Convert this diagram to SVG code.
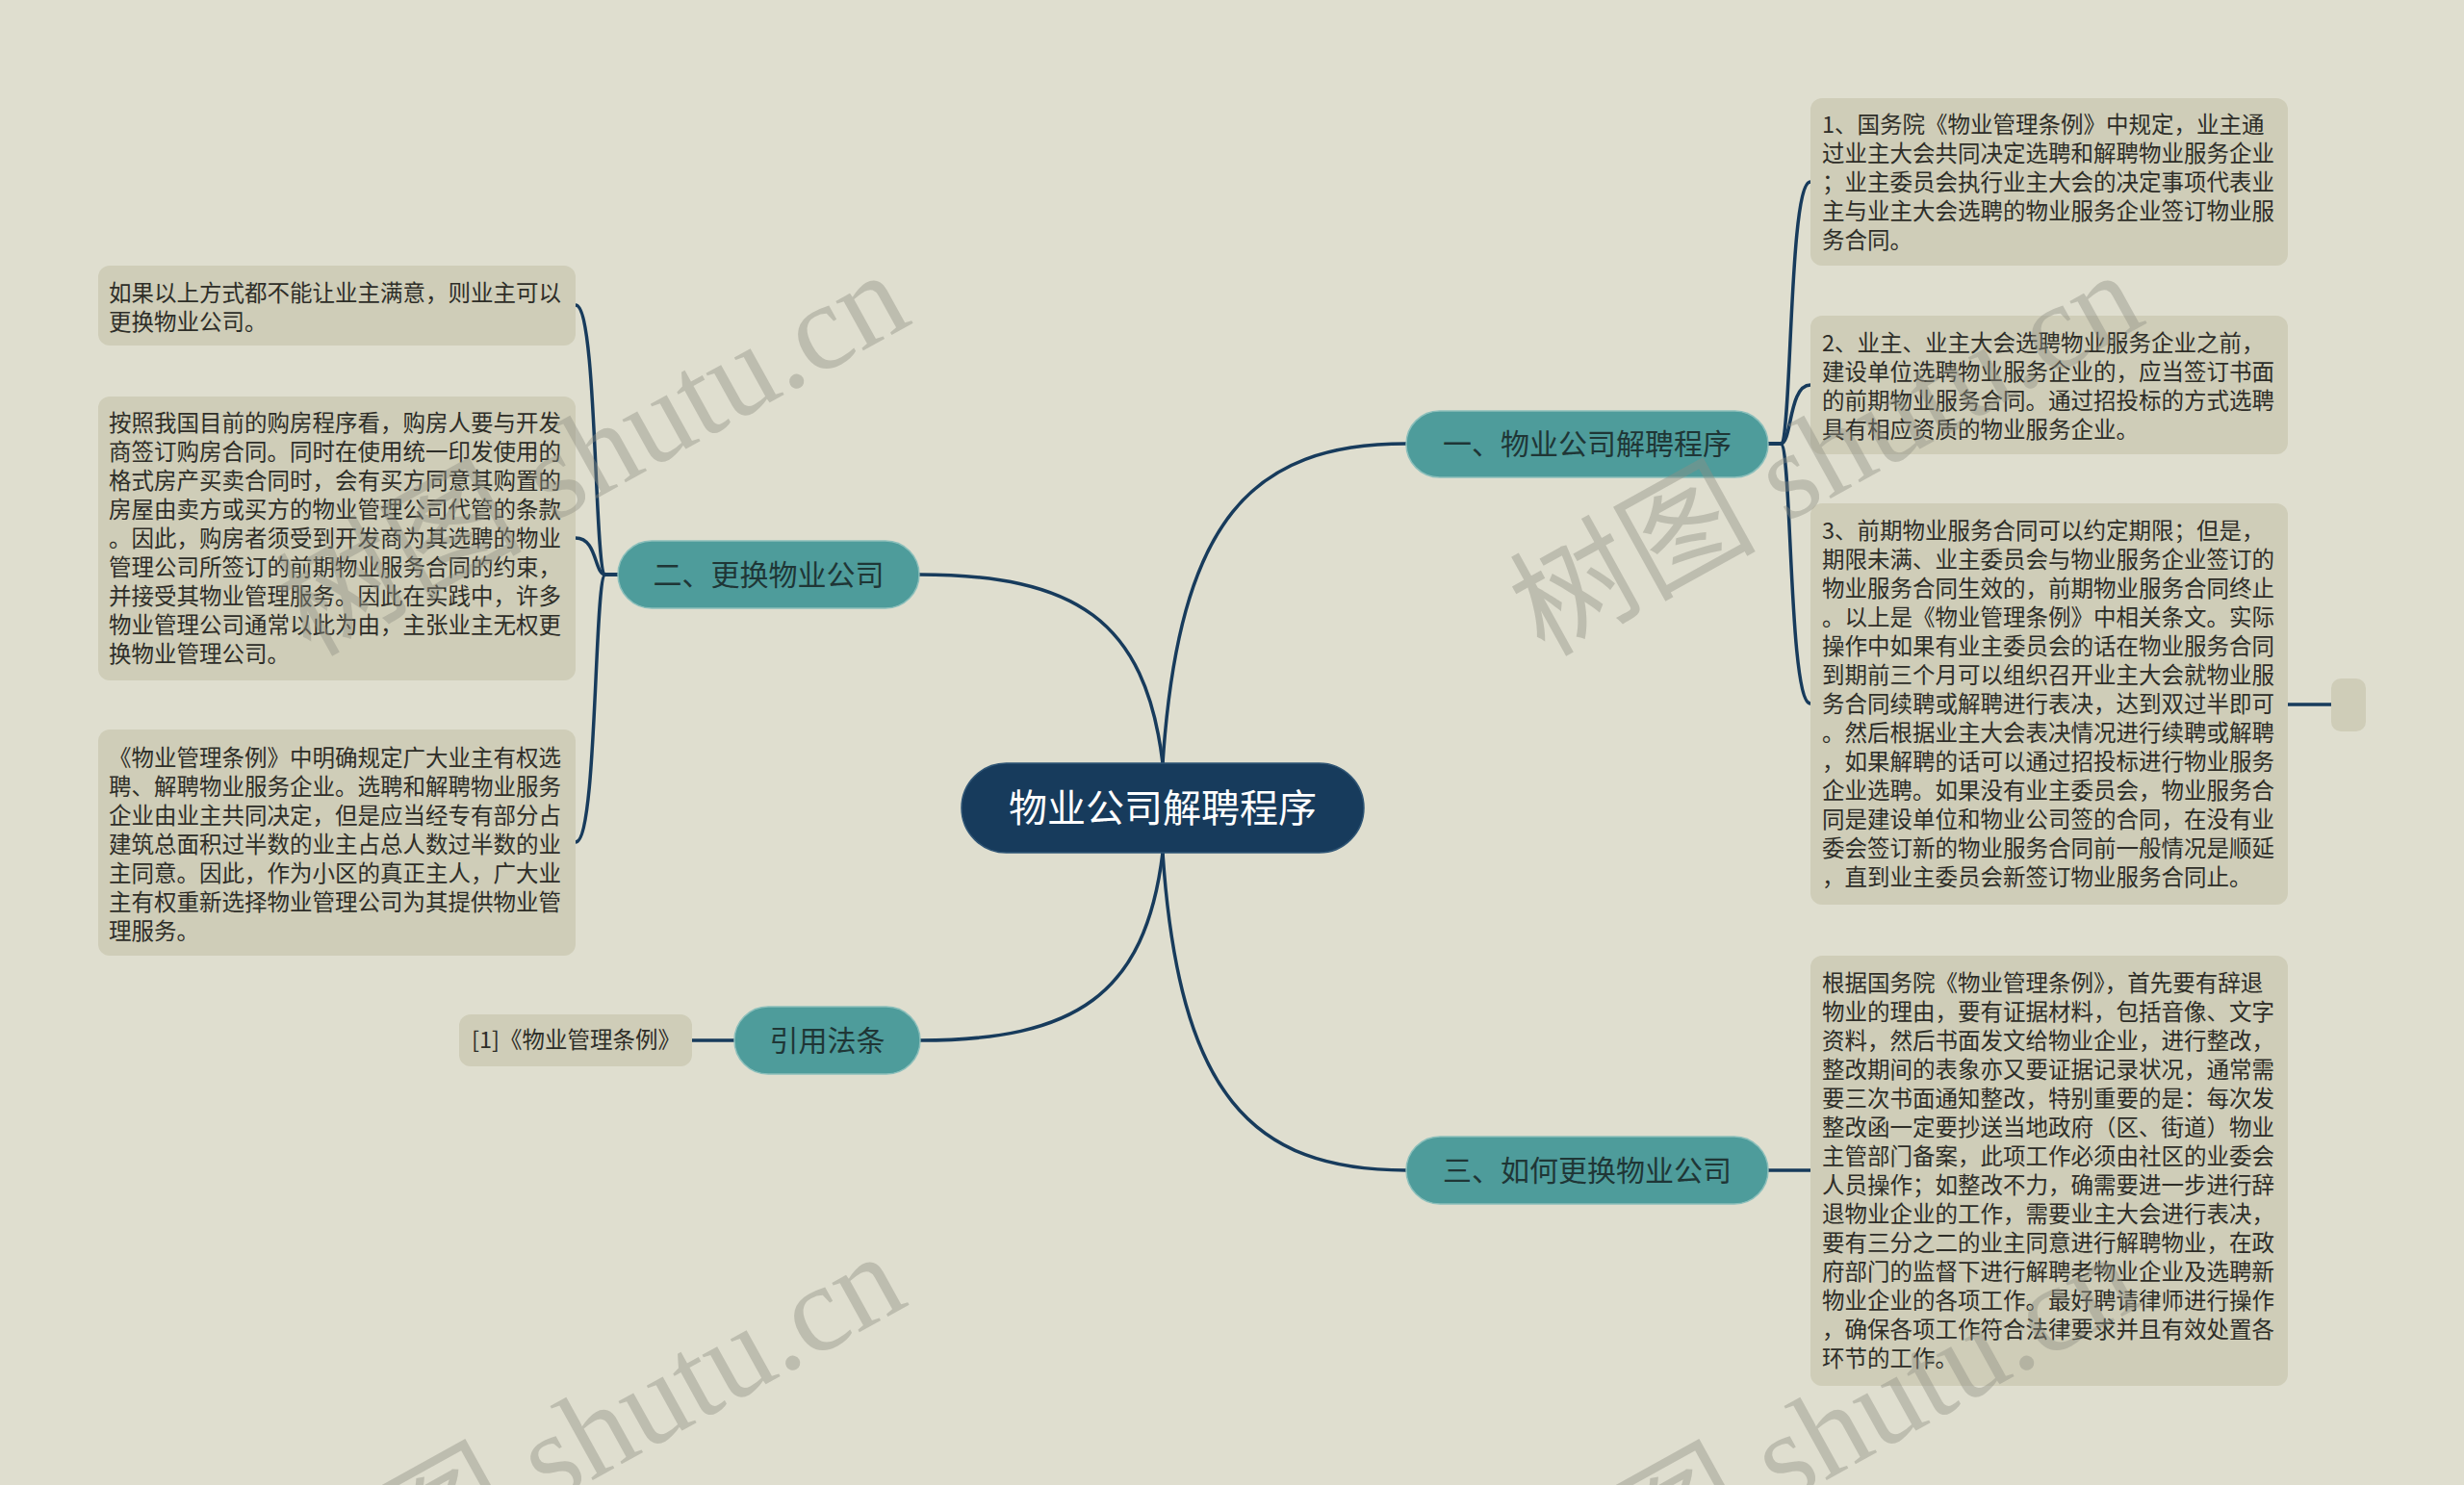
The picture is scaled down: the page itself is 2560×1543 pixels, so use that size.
<svg xmlns="http://www.w3.org/2000/svg" width="2560" height="1543" viewBox="0 0 2560 1543">
<style>
.bg{fill:#dfdecf}
.leaf{fill:#cfcdb8}
.sub{fill:#4e9c9b;stroke:#8cbfbb;stroke-width:1.5}
.root{fill:#173b5c;stroke:#2f5575;stroke-width:1.5}
.lt{font-family:"Noto Sans CJK SC","Noto Sans",sans-serif;font-size:23.5px;fill:#2e2e28}
.st{font-family:"Noto Sans CJK SC","Noto Sans",sans-serif;font-size:30px;fill:#1f3636;text-anchor:middle}
.rt{font-family:"Noto Sans CJK SC","Noto Sans",sans-serif;font-size:40px;fill:#ffffff;text-anchor:middle}
.conn path{fill:none;stroke:#173b5c;stroke-width:3.5;stroke-linecap:round}
.wm{font-family:"Liberation Serif","Noto Sans CJK SC",serif;font-size:128px;fill:#8f8f82;fill-opacity:0.42}
</style>
<rect class="bg" x="0" y="0" width="2560" height="1543"/>

<g id="connectors" class="conn">
<path d="M1208,793 C1225,540 1300,461 1461,461"/>
<path d="M1208,793 C1190,644 1117,597 955,597"/>
<path d="M1208,886 C1190,1034 1117,1081 956,1081"/>
<path d="M1208,886 C1225,1137 1300,1216 1461,1216"/>
<path d="M1837,461 H1850 C1862,461 1858,189 1881,189"/>
<path d="M1837,461 H1850 C1862,461 1858,400 1881,400"/>
<path d="M1837,461 H1850 C1862,461 1858,731 1881,731"/>
<path d="M2377,732 H2422"/>
<path d="M1837,1216 H1881"/>
<path d="M642,597 H629 C617,597 621,317 598,317"/>
<path d="M642,597 H629 C617,597 621,559 598,559"/>
<path d="M642,597 H629 C617,597 621,875 598,875"/>
<path d="M763,1081 H719"/>
</g>

<g id="root">
<rect class="root" x="999" y="793" width="418" height="93" rx="46.5"/>
<text class="rt" x="1208" y="854">物业公司解聘程序</text>
</g>

<g id="n1">
<rect class="sub" x="1461" y="427" width="376" height="69" rx="34.5"/>
<text class="st" x="1649" y="472">一、物业公司解聘程序</text>
</g>
<g id="n2">
<rect class="sub" x="642" y="562" width="313" height="70" rx="35"/>
<text class="st" x="798.5" y="608">二、更换物业公司</text>
</g>
<g id="n3">
<rect class="sub" x="763" y="1046" width="193" height="70" rx="35"/>
<text class="st" x="859.5" y="1092">引用法条</text>
</g>
<g id="n4">
<rect class="sub" x="1461" y="1181" width="376" height="70" rx="35"/>
<text class="st" x="1649" y="1227">三、如何更换物业公司</text>
</g>

<g id="leaf-r1">
<rect class="leaf" x="1881" y="102" width="496" height="174" rx="12"/>
<text class="lt" x="1893" y="138">1、国务院《物业管理条例》中规定，业主通</text>
<text class="lt" x="1893" y="168">过业主大会共同决定选聘和解聘物业服务企业</text>
<text class="lt" x="1893" y="198">；业主委员会执行业主大会的决定事项代表业</text>
<text class="lt" x="1893" y="228">主与业主大会选聘的物业服务企业签订物业服</text>
<text class="lt" x="1893" y="258">务合同。</text>
</g>
<g id="leaf-r2">
<rect class="leaf" x="1881" y="328" width="496" height="144" rx="12"/>
<text class="lt" x="1893" y="365">2、业主、业主大会选聘物业服务企业之前，</text>
<text class="lt" x="1893" y="395">建设单位选聘物业服务企业的，应当签订书面</text>
<text class="lt" x="1893" y="425">的前期物业服务合同。通过招投标的方式选聘</text>
<text class="lt" x="1893" y="455">具有相应资质的物业服务企业。</text>
</g>
<g id="leaf-r3">
<rect class="leaf" x="1881" y="523" width="496" height="417" rx="12"/>
<text class="lt" x="1893" y="560">3、前期物业服务合同可以约定期限；但是，</text>
<text class="lt" x="1893" y="590">期限未满、业主委员会与物业服务企业签订的</text>
<text class="lt" x="1893" y="620">物业服务合同生效的，前期物业服务合同终止</text>
<text class="lt" x="1893" y="650">。以上是《物业管理条例》中相关条文。实际</text>
<text class="lt" x="1893" y="680">操作中如果有业主委员会的话在物业服务合同</text>
<text class="lt" x="1893" y="710">到期前三个月可以组织召开业主大会就物业服</text>
<text class="lt" x="1893" y="740">务合同续聘或解聘进行表决，达到双过半即可</text>
<text class="lt" x="1893" y="770">。然后根据业主大会表决情况进行续聘或解聘</text>
<text class="lt" x="1893" y="800">，如果解聘的话可以通过招投标进行物业服务</text>
<text class="lt" x="1893" y="830">企业选聘。如果没有业主委员会，物业服务合</text>
<text class="lt" x="1893" y="860">同是建设单位和物业公司签的合同，在没有业</text>
<text class="lt" x="1893" y="890">委会签订新的物业服务合同前一般情况是顺延</text>
<text class="lt" x="1893" y="920">，直到业主委员会新签订物业服务合同止。</text>
</g>
<g id="leaf-r3-child">
<rect class="leaf" x="2422" y="705" width="36" height="55" rx="10"/>
</g>
<g id="leaf-r4">
<rect class="leaf" x="1881" y="993" width="496" height="447" rx="12"/>
<text class="lt" x="1893" y="1030">根据国务院《物业管理条例》，首先要有辞退</text>
<text class="lt" x="1893" y="1060">物业的理由，要有证据材料，包括音像、文字</text>
<text class="lt" x="1893" y="1090">资料，然后书面发文给物业企业，进行整改，</text>
<text class="lt" x="1893" y="1120">整改期间的表象亦又要证据记录状况，通常需</text>
<text class="lt" x="1893" y="1150">要三次书面通知整改，特别重要的是：每次发</text>
<text class="lt" x="1893" y="1180">整改函一定要抄送当地政府（区、街道）物业</text>
<text class="lt" x="1893" y="1210">主管部门备案，此项工作必须由社区的业委会</text>
<text class="lt" x="1893" y="1240">人员操作；如整改不力，确需要进一步进行辞</text>
<text class="lt" x="1893" y="1270">退物业企业的工作，需要业主大会进行表决，</text>
<text class="lt" x="1893" y="1300">要有三分之二的业主同意进行解聘物业，在政</text>
<text class="lt" x="1893" y="1330">府部门的监督下进行解聘老物业企业及选聘新</text>
<text class="lt" x="1893" y="1360">物业企业的各项工作。最好聘请律师进行操作</text>
<text class="lt" x="1893" y="1390">，确保各项工作符合法律要求并且有效处置各</text>
<text class="lt" x="1893" y="1420">环节的工作。</text>
</g>

<g id="leaf-l1">
<rect class="leaf" x="102" y="276" width="496" height="83" rx="12"/>
<text class="lt" x="113" y="313">如果以上方式都不能让业主满意，则业主可以</text>
<text class="lt" x="113" y="343">更换物业公司。</text>
</g>
<g id="leaf-l2">
<rect class="leaf" x="102" y="412" width="496" height="295" rx="12"/>
<text class="lt" x="113" y="448">按照我国目前的购房程序看，购房人要与开发</text>
<text class="lt" x="113" y="478">商签订购房合同。同时在使用统一印发使用的</text>
<text class="lt" x="113" y="508">格式房产买卖合同时，会有买方同意其购置的</text>
<text class="lt" x="113" y="538">房屋由卖方或买方的物业管理公司代管的条款</text>
<text class="lt" x="113" y="568">。因此，购房者须受到开发商为其选聘的物业</text>
<text class="lt" x="113" y="598">管理公司所签订的前期物业服务合同的约束，</text>
<text class="lt" x="113" y="628">并接受其物业管理服务。因此在实践中，许多</text>
<text class="lt" x="113" y="658">物业管理公司通常以此为由，主张业主无权更</text>
<text class="lt" x="113" y="688">换物业管理公司。</text>
</g>
<g id="leaf-l3">
<rect class="leaf" x="102" y="758" width="496" height="235" rx="12"/>
<text class="lt" x="113" y="796">《物业管理条例》中明确规定广大业主有权选</text>
<text class="lt" x="113" y="826">聘、解聘物业服务企业。选聘和解聘物业服务</text>
<text class="lt" x="113" y="856">企业由业主共同决定，但是应当经专有部分占</text>
<text class="lt" x="113" y="886">建筑总面积过半数的业主占总人数过半数的业</text>
<text class="lt" x="113" y="916">主同意。因此，作为小区的真正主人，广大业</text>
<text class="lt" x="113" y="946">主有权重新选择物业管理公司为其提供物业管</text>
<text class="lt" x="113" y="976">理服务。</text>
</g>
<g id="leaf-cite">
<rect class="leaf" x="477" y="1054" width="242" height="54" rx="12"/>
<text class="lt" x="490" y="1089">[1]《物业管理条例》</text>
</g>

<g id="watermark">
<text class="wm" transform="translate(322,683) rotate(-29)">树图 shutu.cn</text>
<text class="wm" transform="translate(1604,683) rotate(-29)">树图 shutu.cn</text>
<text class="wm" transform="translate(318,1703) rotate(-29)">树图 shutu.cn</text>
<text class="wm" transform="translate(1600,1703) rotate(-29)">树图 shutu.cn</text>
</g>
</svg>
